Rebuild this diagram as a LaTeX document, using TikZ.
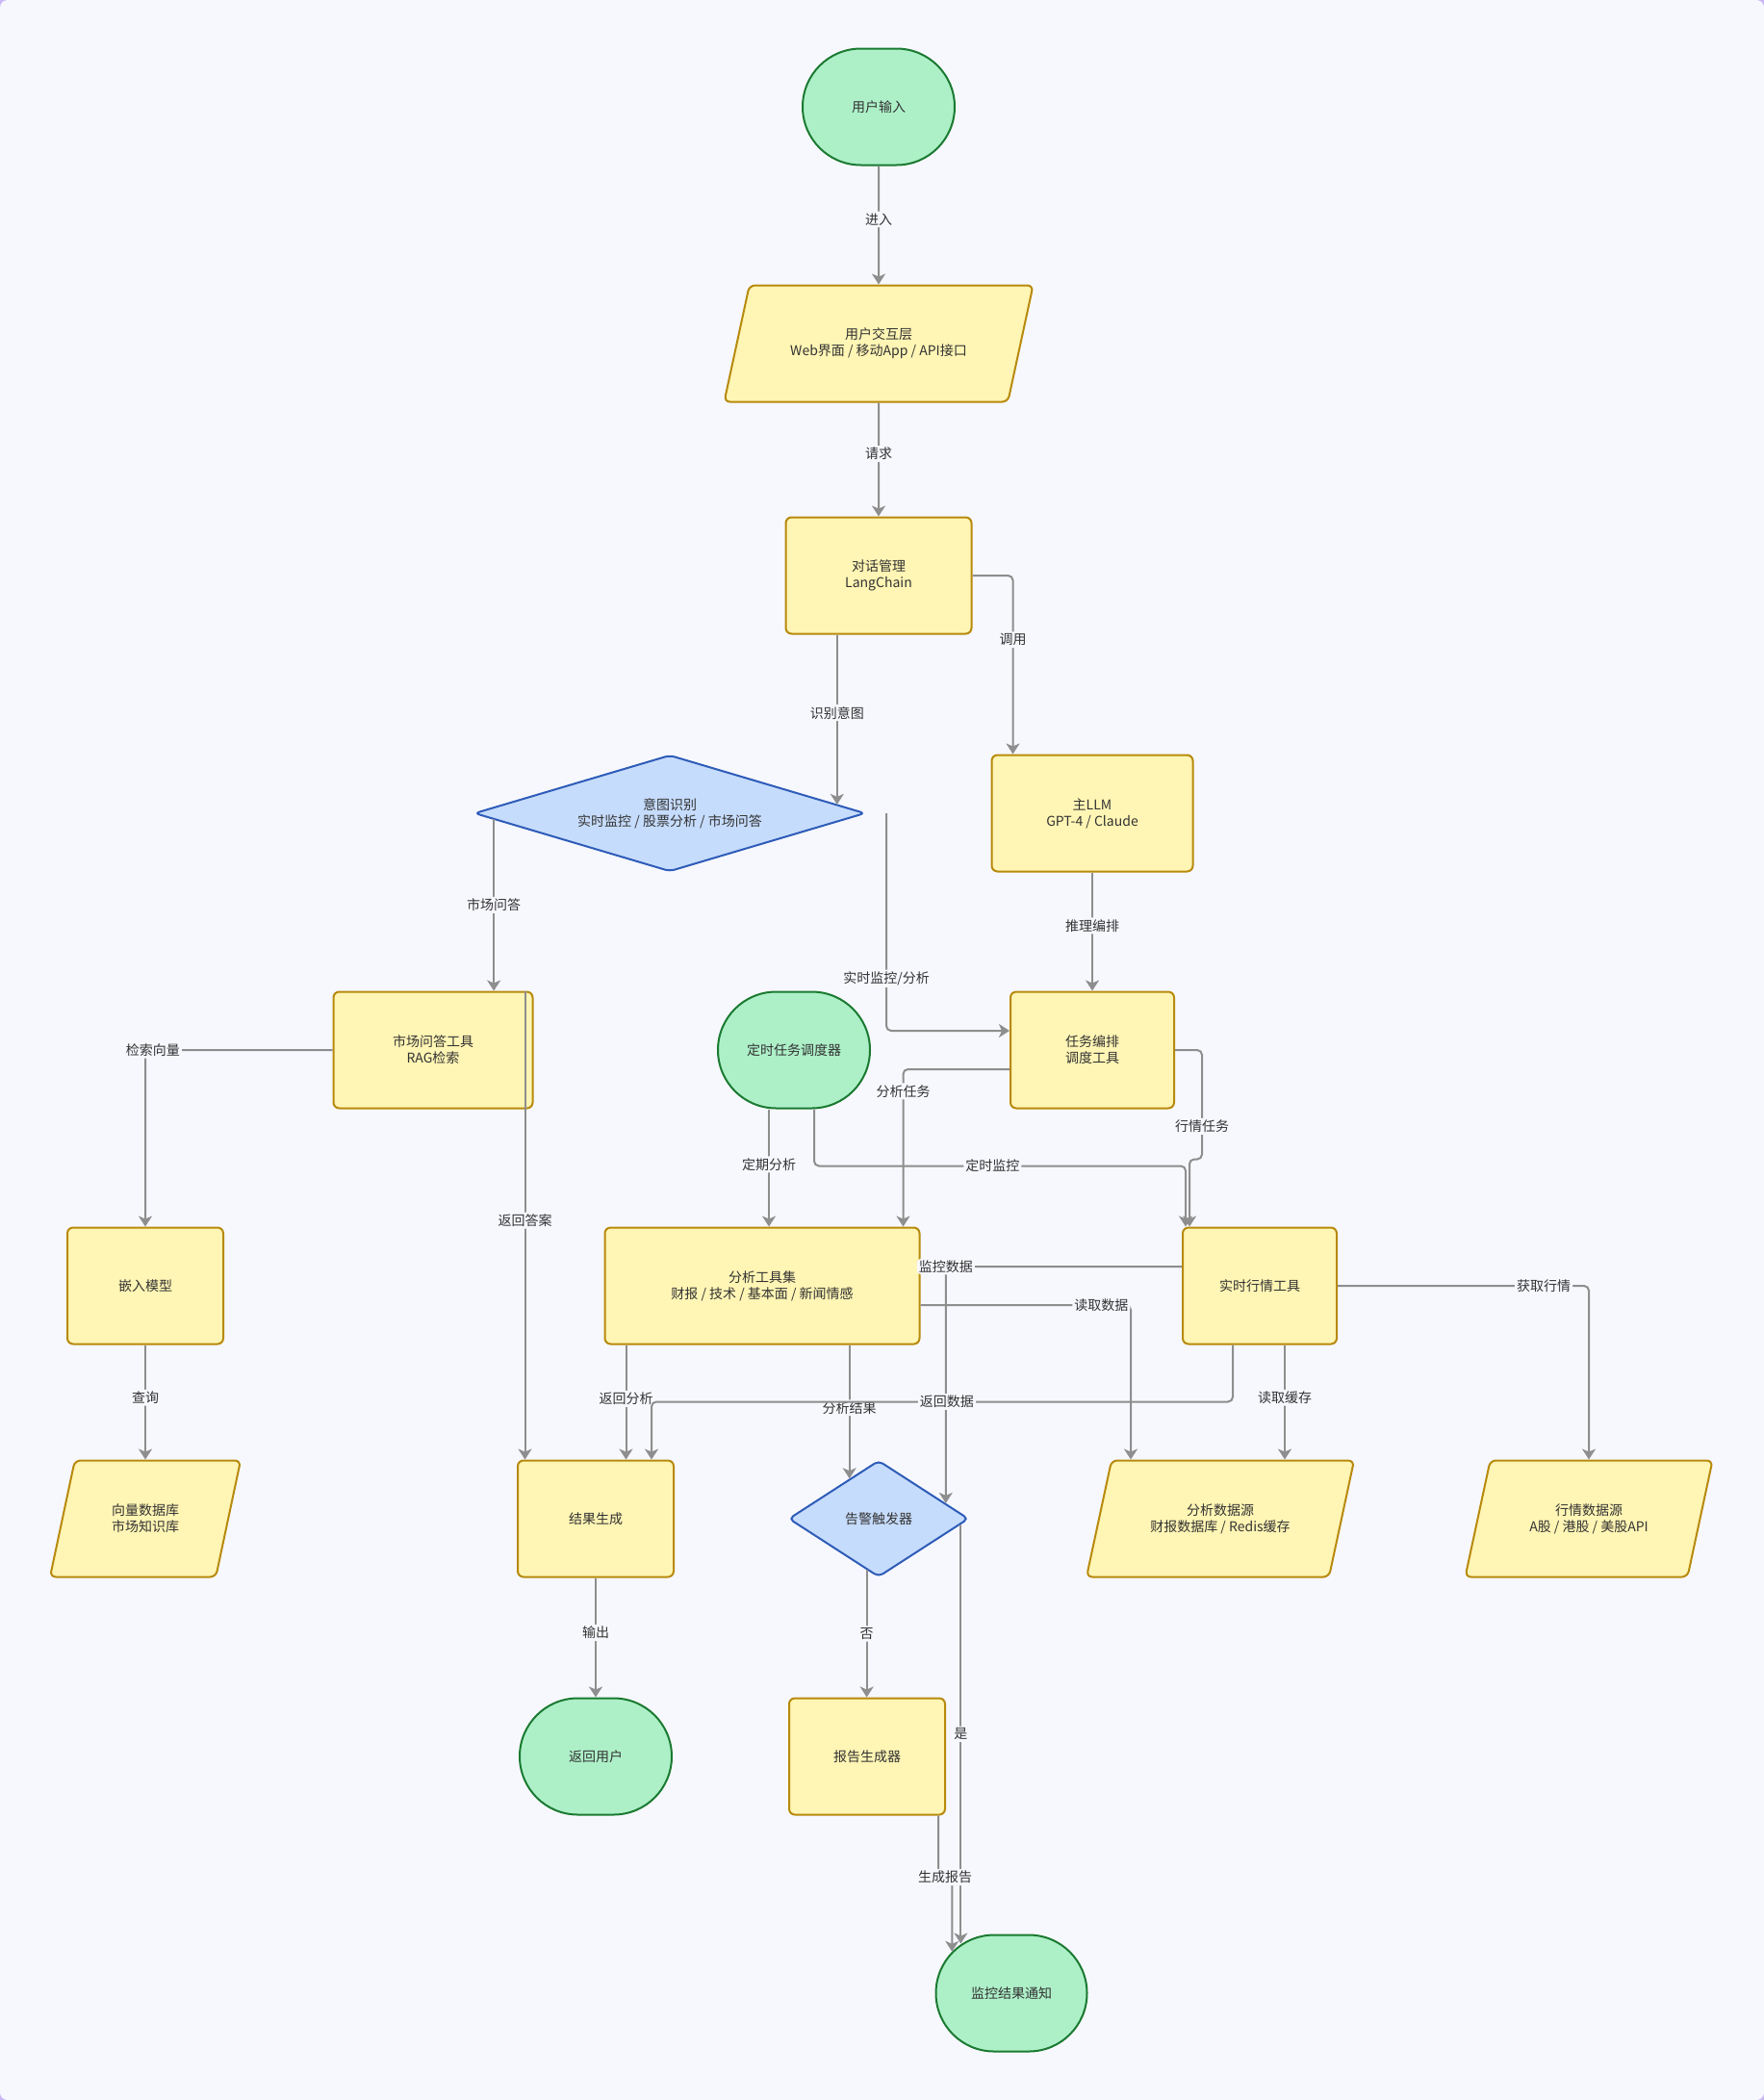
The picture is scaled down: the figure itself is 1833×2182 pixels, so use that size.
\documentclass[tikz,border=0pt]{standalone}
\usepackage{fontspec}
\setmainfont{Noto Sans CJK SC}
\usepackage{xcolor}
\usepackage{tikz}
\usetikzlibrary{calc,arrows.meta,shapes.geometric,shapes.misc}
\definecolor{bgc}{HTML}{F7F8FE}
\definecolor{cornc}{HTML}{C9B6F4}
\definecolor{txtc}{HTML}{333333}
\definecolor{edgec}{HTML}{8E8E8E}
\definecolor{procf}{HTML}{FFF5B4}
\definecolor{procd}{HTML}{B88A0C}
\definecolor{termf}{HTML}{ADF0C8}
\definecolor{termd}{HTML}{1B7A31}
\definecolor{decf}{HTML}{C6DCFC}
\definecolor{decd}{HTML}{2E5CB8}
\tikzset{
  ar/.style={-{Stealth[length=11pt,width=14pt,inset=3pt]},line width=2pt,edgec,rounded corners=5pt},
  lbl/.style={fill=bgc,inner sep=2pt,text=txtc,font=\fontsize{14}{17}\selectfont},
  base/.style={line width=2pt,align=center,text=txtc,font=\fontsize{14}{17}\selectfont,minimum height=121pt,inner sep=2pt},
  proc/.style={base,rectangle,draw=procd,fill=procf,rounded corners=6pt},
  io/.style={base,trapezium,trapezium left angle=77.5,trapezium right angle=102.5,trapezium stretches body,inner ysep=43pt,draw=procd,fill=procf,rounded corners=6pt},
  term/.style={base,rounded rectangle,draw=termd,fill=termf},
  dec/.style={base,diamond,draw=decd,fill=decf,rounded corners=5pt}
}

\begin{document}
\begin{tikzpicture}[x=1pt,y=-1pt]
\useasboundingbox (0,0) rectangle (1833,2182);
\fill[cornc] (0,0) rectangle (1833,2182);
\fill[bgc,rounded corners=8pt] (0,0) rectangle (1833,2182);

\node[term,minimum width=162pt] (start) at (913,111) {用户输入};
\node[io,minimum width=321pt] (ui) at (913,357) {用户交互层\\Web界面 / 移动App / API接口};
\node[proc,minimum width=193pt] (dlg) at (913,598) {对话管理\\LangChain};
\node[dec,aspect=3.36,minimum width=406pt] (intent) at (696,845) {意图识别\\实时监控 / 股票分析 / 市场问答};
\node[proc,minimum width=209pt] (llm) at (1135,845) {主LLM\\GPT-4 / Claude};
\node[proc,minimum width=207pt] (qa) at (450,1091) {市场问答工具\\RAG检索};
\node[term,minimum width=162pt] (sched) at (825,1091) {定时任务调度器};
\node[proc,minimum width=170pt] (orch) at (1135,1091) {任务编排\\调度工具};
\node[proc,minimum width=162pt] (embed) at (151,1336) {嵌入模型};
\node[proc,minimum width=327pt] (anal) at (792,1336) {分析工具集\\财报 / 技术 / 基本面 / 新闻情感};
\node[proc,minimum width=160pt] (rt) at (1309,1336) {实时行情工具};
\node[io,minimum width=198pt] (vdb) at (151,1578) {向量数据库\\市场知识库};
\node[proc,minimum width=162pt] (result) at (619,1578) {结果生成};
\node[dec,aspect=1.55,minimum width=187pt] (alert) at (913,1578) {告警触发器};
\node[io,minimum width=278pt] (ads) at (1268,1578) {分析数据源\\财报数据库 / Redis缓存};
\node[io,minimum width=257pt] (mds) at (1651,1578) {行情数据源\\A股 / 港股 / 美股API};
\node[term,minimum width=162pt] (back) at (619,1825) {返回用户};
\node[proc,minimum width=162pt] (report) at (901,1825) {报告生成器};
\node[term,minimum width=161pt] (notify) at (1051,2071) {监控结果通知};

\coordinate (qaR) at ($(qa.north east)+(-9,0)$);
\coordinate (scA) at ($(sched.south)+(-26,0)$);
\coordinate (scB) at ($(sched.south)+(21,0)$);
\coordinate (rtA) at ($(rt.north west)+(4,0)$);
\coordinate (rtB) at ($(rt.north west)+(8,0)$);
\coordinate (rtC) at ($(rt.south)+(26,0)$);
\coordinate (rtD) at ($(rt.south)+(-28,0)$);
\coordinate (anA) at ($(anal.south west)+(23,0)$);
\coordinate (rpA) at ($(report.south east)+(-8,0)$);

\draw[ar] (start) -- node[lbl,pos=0.45]{进入} (ui);
\draw[ar] (ui) -- node[lbl,pos=0.45]{请求} (dlg);
\draw[ar] (intent.3 |- dlg.south) -- node[lbl,pos=0.46]{识别意图} (intent.3);
\draw[ar] (dlg.east) -| node[lbl,pos=0.68]{调用} ($(llm.north west)+(23,0)$);
\draw[ar] (intent.182) -- node[lbl]{市场问答} (intent.182 |- qa.north);
\draw[ar] ($(intent.east)+(21,0)$) |- node[lbl,pos=0.38]{实时监控/分析} ($(orch.west)+(0,-20)$);
\draw[ar] (llm) -- node[lbl,pos=0.45]{推理编排} (orch);
\draw[ar] (qa.west) -| node[lbl,pos=0.48]{检索向量} (embed.north);
\draw[ar] (qaR) -- node[lbl,pos=0.49]{返回答案} (qaR |- result.north);
\draw[ar] ($(orch.west)+(0,20)$) -| node[lbl,pos=0.57]{分析任务} ($(anal.north east)+(-18,0)$);
\draw[ar] (orch.east) -| node[lbl,pos=0.85]{行情任务} ($(rtB)+(13,-70)$) -| (rtB);
\draw[ar] (scA) -- node[lbl,pos=0.47]{定期分析} (scA |- anal.north);
\draw[ar] (scB) |- node[lbl,pos=0.74]{定时监控} ($(rtA)+(0,-63)$) -- (rtA);
\draw[ar] ($(rt.west)+(0,-20)$) -| node[lbl]{监控数据} (alert.13);
\draw[ar] ($(anal.east)+(0,20)$) -| node[lbl,pos=0.43]{读取数据} ($(ads.north)+(-93,0)$);
\draw[ar] (rt.east) -| node[lbl,pos=0.41]{获取行情} (mds.north);
\draw[ar] (embed) -- node[lbl,pos=0.46]{查询} (vdb);
\draw[ar] (anA) -- node[lbl,pos=0.47]{返回分析} (anA |- result.north);
\draw[ar] (alert.126 |- anal.south) -- node[lbl,pos=0.47]{分析结果} (alert.126);
\draw[ar] (rtD) |- node[lbl,pos=0.746]{返回数据} ($(result.north east)+(-24,-60)$) -- ($(result.north east)+(-24,0)$);
\draw[ar] (rtC) -- node[lbl,pos=0.46]{读取缓存} (rtC |- ads.north);
\draw[ar] (result) -- node[lbl,pos=0.46]{输出} (back);
\draw[ar] (alert.257) -- node[lbl]{否} (alert.257 |- report.north);
\draw[ar] (alert.-4) -- node[lbl]{是} (alert.-4 |- notify.135);
\draw[ar] (rpA) -- ++(0,64) -| node[lbl,pos=0.25]{生成报告} (notify.145);
\end{tikzpicture}
\end{document}
